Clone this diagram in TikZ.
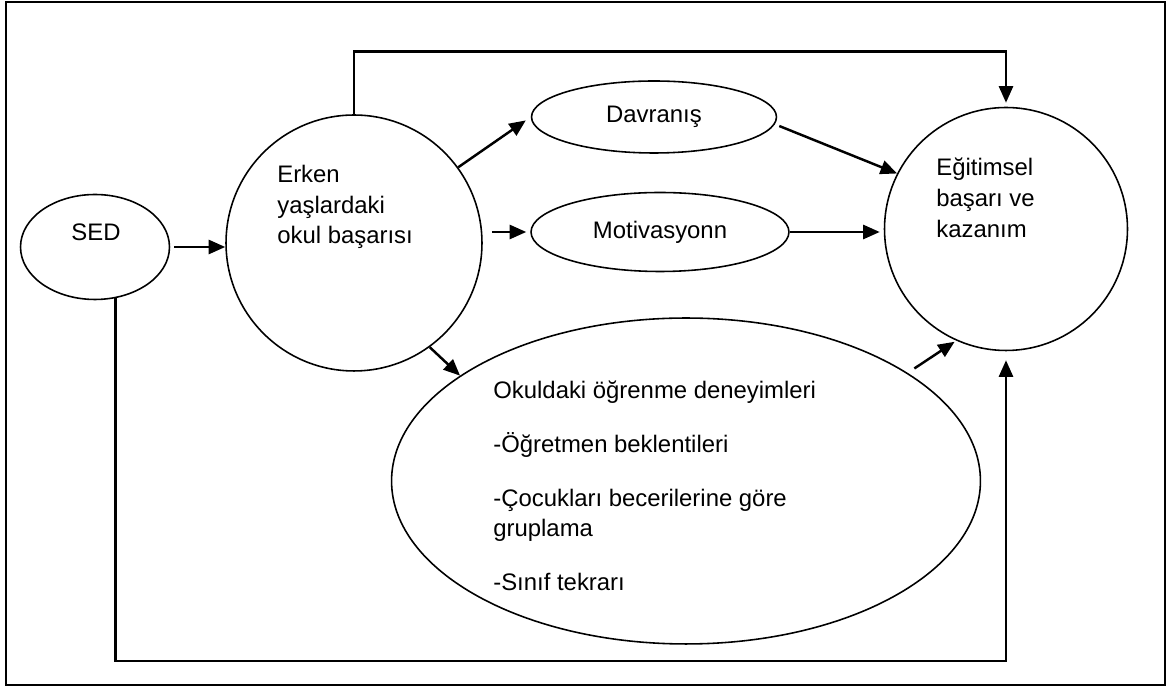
\documentclass[tikz,border=0pt]{standalone}
\usepackage{fontspec}
\setmainfont{Liberation Sans}
\usetikzlibrary{shapes.geometric,arrows.meta,calc}

\tikzset{
  shp/.style={draw, line width=0.9pt, inner sep=0pt},
  arr/.style={-{Triangle[length=0.33cm,width=0.28cm]}, line width=1.4pt},
  txt/.style={align=left, inner sep=0pt}
}

\begin{document}
\begin{tikzpicture}[x=0.02cm, y=-0.02cm, font=\fontsize{13.6}{17.5}\selectfont]
\useasboundingbox (0,0) rectangle (1171,688);
\draw[line width=1.1pt] (6,2) rectangle (1165,685);

% shapes
\node (sed)   [shp, ellipse, minimum width=2.98cm, minimum height=2.1cm] at (95,247) {};
\node (erken) [shp, circle, minimum size=5.12cm] at (354,243) {};
\node (dav)   [shp, ellipse, minimum width=4.9cm, minimum height=1.44cm] at (654,117) {Davranış};
\node (mot)   [shp, ellipse, minimum width=5.16cm, minimum height=1.58cm] at (660,232) {Motivasyonn};
\node (okul)  [shp, ellipse, minimum width=11.78cm, minimum height=6.52cm] at (686,481) {};
\node (goal)  [shp, circle, minimum size=4.86cm] at (1006,229) {};

% texts
\node (sedtxt)   [txt] at (96,232) {SED};
\node (erkentxt) [txt, anchor=west] at (277,207) {Erken\\yaşlardaki\\okul başarısı};
\node (goaltxt)  [txt, anchor=west] at (936,198) {Eğitimsel\\başarı ve\\kazanım};
\node (okultxt)  [txt, anchor=west] at (493,486) {Okuldaki öğrenme deneyimleri\\[0.46cm]
  -Öğretmen beklentileri\\[0.46cm]
  -Çocukları becerilerine göre\\gruplama\\[0.46cm]
  -Sınıf tekrarı};

% connectors
\draw[arr, shorten <=0.08cm] (sed.east) -- (sed.east -| erken.west);
\draw[arr, shorten >=0.12cm] (erken.36) -- (dav.west);
\draw[arr, shorten <=0.18cm, shorten >=0.08cm] (mot.west -| erken.east) -- (mot.west);
\draw[arr] (erken.-54) -- (okul.155);
\draw[arr] ($(dav.east)+(2,9)$) -- (goal.153);
\draw[arr, shorten >=0.08cm] (mot.east) -- (mot.east -| goal.west);
\draw[arr, shorten <=0.16cm, shorten >=0.04cm] (okul.26) -- (goal.-114);
\draw[arr, shorten >=0.08cm] (erken.north) |- ($(goal.north)+(0,-55)$) -- (goal.north);
\draw[arr, shorten >=0.18cm] (sed.-68) |- ($(goal.south)+(0,310)$) -- (goal.south);
\end{tikzpicture}
\end{document}
